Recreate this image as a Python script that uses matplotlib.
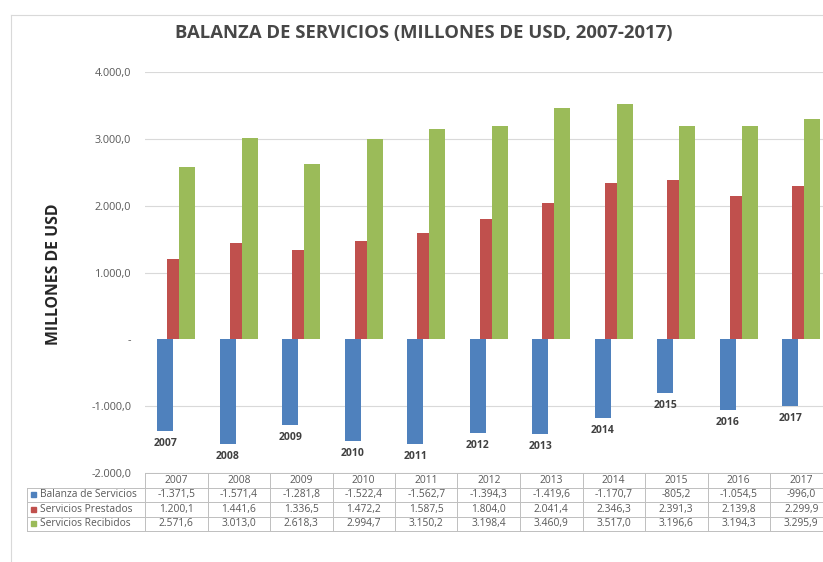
import matplotlib
matplotlib.use("Agg")
import matplotlib.pyplot as plt
from matplotlib.patches import Rectangle
from matplotlib.lines import Line2D
import numpy as np

years = ['2007', '2008', '2009', '2010', '2011', '2012', '2013', '2014', '2015', '2016', '2017']
balanza = [-1371.5, -1571.4, -1281.8, -1522.4, -1562.7, -1394.3, -1419.6, -1170.7, -805.2, -1054.5, -996.0]
prestados = [1200.1, 1441.6, 1336.5, 1472.2, 1587.5, 1804.0, 2041.4, 2346.3, 2391.3, 2139.8, 2299.9]
recibidos = [2571.6, 3013.0, 2618.3, 2994.7, 3150.2, 3198.4, 3460.9, 3517.0, 3196.6, 3194.3, 3295.9]
series_names = ['Balanza de Servicios', 'Servicios Prestados', 'Servicios Recibidos']
yticks = [-2000, -1000, 0, 1000, 2000, 3000, 4000]

C_BLUE = '#4F81BD'
C_RED = '#C0504D'
C_GREEN = '#9BBB59'
TXT = '#595959'
GRID = '#D9D9D9'

plt.rcParams['font.family'] = ['Open Sans', 'DejaVu Sans']

W, H = 823, 562
fig = plt.figure(figsize=(W / 100, H / 100), dpi=100)

def fx(px):
    return px / W

def fy(py):
    return 1 - py / H

# axes: x from 145px, 62.5px per category, extends past the right edge
x0, cw = 145, 62.5
ytop, ybot = 72, 473
ax = fig.add_axes([fx(x0), fy(ybot), fx(cw * 11), (ybot - ytop) / H])
n = len(years)
x = np.arange(n)

ax.bar(x - 0.176, balanza, width=0.256, color=C_BLUE, zorder=3)
ax.bar(x - 0.048, prestados, width=0.19, color=C_RED, zorder=3)
ax.bar(x + 0.176, recibidos, width=0.256, color=C_GREEN, zorder=3)

# year labels under the blue bars
for i, v in enumerate(balanza):
    ax.annotate(years[i], (x[i] - 0.176, v), xytext=(0, -9), textcoords='offset points',
                ha='center', va='center', fontsize=7.5, fontweight='bold', color='#404040')

ax.set_xlim(-0.5, n - 0.5)
ax.set_ylim(-2000, 4000)
ax.set_yticks(yticks)

def fmt(v):
    if v == 0:
        return '-'
    s = f"{abs(v):,.1f}".replace(',', 'X').replace('.', ',').replace('X', '.')
    return ('-' if v < 0 else '') + s

ax.set_yticklabels([fmt(v) for v in yticks])
ax.tick_params(axis='y', length=0, labelsize=7.8, labelcolor=TXT, pad=10)
ax.set_xticks([])
for s in ax.spines.values():
    s.set_visible(False)
for t in yticks:
    if t != 0:
        ax.axhline(t, color=GRID, linewidth=0.8, zorder=0)

ax.set_ylabel('MILLONES DE USD', fontsize=11.4, fontweight='bold', color='#262626')
ax.yaxis.set_label_coords((62 - x0) / (cw * 11), 0.495)

fig.text(fx(424), fy(33), 'BALANZA DE SERVICIOS (MILLONES DE USD, 2007-2017)',
         ha='center', va='center', fontsize=13.3, fontweight='bold', color='#474747')

# outer chart frame
fig.add_artist(Line2D([fx(11), fx(11)], [fy(15), 0], color='#D9D9D9', lw=0.8))
fig.add_artist(Line2D([fx(11), 1], [fy(15), fy(15)], color='#D9D9D9', lw=0.8))

# data table below the plot
rows_y = [473, 487.5, 502, 516.5, 531]
lab_left = 27
lc = '#BFBFBF'
for yy in rows_y:
    left = x0 if yy == rows_y[0] else lab_left
    fig.add_artist(Line2D([fx(left), 1], [fy(yy), fy(yy)], color=lc, lw=0.7))
fig.add_artist(Line2D([fx(lab_left), fx(lab_left)], [fy(rows_y[1]), fy(rows_y[-1])], color=lc, lw=0.7))
for i in range(n + 1):
    xx = x0 + i * cw
    fig.add_artist(Line2D([fx(xx), fx(xx)], [fy(rows_y[0]), fy(rows_y[-1])], color=lc, lw=0.7))

for i, yr in enumerate(years):
    cx = x0 + (i + 0.5) * cw
    fig.text(fx(cx), fy((rows_y[0] + rows_y[1]) / 2), yr, ha='center', va='center',
             fontsize=7.4, color=TXT)

table_vals = [balanza, prestados, recibidos]
colors = [C_BLUE, C_RED, C_GREEN]
for r in range(3):
    cy = (rows_y[r + 1] + rows_y[r + 2]) / 2
    fig.add_artist(Rectangle((fx(31), fy(cy + 2.5)), fx(5), 5 / H, color=colors[r]))
    fig.text(fx(40), fy(cy), series_names[r], ha='left', va='center', fontsize=7.4, color=TXT)
    for i in range(n):
        cx = x0 + (i + 0.5) * cw
        fig.text(fx(cx), fy(cy), fmt(table_vals[r][i]), ha='center', va='center',
                 fontsize=7.4, color=TXT)

fig.savefig('out.png', dpi=100)
